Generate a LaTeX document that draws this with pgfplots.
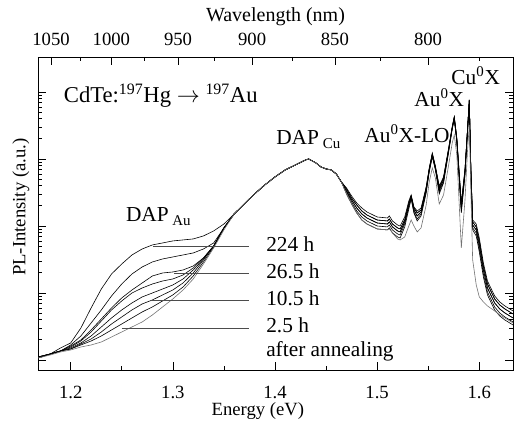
\documentclass[border=0pt]{standalone}
\usepackage{fontspec}
\setmainfont{Liberation Serif}
\usepackage{pgfplots}
\pgfplotsset{compat=1.18}
\begin{document}
\fontsize{14}{16.8}\selectfont
\begin{tikzpicture}[ann/.style={anchor=base west, inner sep=0pt, font=\fontsize{16}{19}\selectfont}]
\begin{axis}[
 name=main, scale only axis, width=356.25pt, height=234.75pt,
 xmin=1.168, xmax=1.633, ymode=log, ymin=0.709, ymax=33270,
 xtick={1.2,1.3,1.4,1.5,1.6}, minor xtick={1.25,1.35,1.45,1.55},
 ytick={1,10,100,1000,10000}, yticklabels={},
 xtick pos=bottom, ytick pos=both, tick align=inside,
 major tick length=6pt, minor tick length=3pt,
 xticklabel style={anchor=center, yshift=-17pt, /pgf/number format/.cd, fixed, fixed zerofill, precision=1, assume math mode=true},
 xlabel={Energy (eV)}, xlabel style={at={(axis description cs:0.463,0)}, anchor=center, yshift=-31pt},
 ylabel={PL-Intensity (a.u.)}, ylabel style={at={(axis description cs:-0.036,0.52)}, anchor=center},
 axis line style={line width=0.6pt}, tick style={line width=0.5pt, black},
 every axis plot/.append style={line width=0.45pt},
]
% C1 (224 h)
\addplot[black] coordinates {(1.168,1.109)(1.18,1.229)(1.19,1.511)(1.20,1.795)(1.21,3.006)(1.22,5.983)(1.23,11.48)(1.24,19.22)(1.25,27.12)(1.26,36.96)(1.27,45.43)(1.28,52.14)(1.29,55.85)(1.30,59.83)(1.31,61.92)(1.32,64.09)(1.33,71.06)(1.34,84.39)(1.35,107.1)
(1.36,151.1)(1.37,213.1)(1.38,300.6)(1.39,409.8)(1.40,539.6)(1.41,686.5)(1.42,815.4)(1.43,968.4)(1.433,1000)(1.44,873.5)(1.445,761.2)(1.45,710.6)(1.455,686.5)(1.46,598.3)(1.465,454.3)
(1.47,369.6)(1.475,280.7)(1.48,220.6)(1.485,185.7)(1.49,161.9)(1.50,136.3)(1.51,131.7)(1.512,141.1)(1.515,118.8)(1.52,103.5)(1.5225,100)(1.527,136.3)(1.531,236.3)(1.5333,290.5)(1.536,192.2)(1.5392,167.5)(1.543,185.7)(1.548,382.5)(1.551,735.4)(1.554,1229)(1.557,787.8)(1.5608,395.9)(1.565,539.6)(1.570,1460)(1.5735,3006)(1.5755,4241)(1.578,2059)(1.5824,220.6)(1.586,710.6)(1.5885,2807)(1.5902,7612)(1.5917,761.2)(1.5935,122.9)(1.597,107.1)(1.600,66.33)(1.604,28.07)(1.608,15.11)(1.615,9.040)(1.62,7.354)(1.625,6.409)(1.633,5.396)};
% C2
\addplot[black] coordinates {(1.168,1.109)(1.18,1.229)(1.19,1.363)(1.20,1.675)(1.21,2.283)(1.22,3.571)(1.23,5.585)(1.24,9.040)(1.25,13.63)(1.26,19.22)(1.27,24.46)(1.28,29.05)(1.29,32.21)(1.30,34.50)(1.31,36.96)(1.32,39.59)(1.33,45.43)(1.34,55.85)(1.35,93.57)
(1.36,151.1)(1.37,213.1)(1.38,300.6)(1.39,409.8)(1.40,539.6)(1.41,686.5)(1.42,815.4)(1.43,968.4)(1.433,1000)(1.44,873.5)(1.445,761.2)(1.45,710.6)(1.455,686.5)(1.46,598.3)(1.465,454.3)
(1.47,357.1)(1.475,262.0)(1.48,205.9)(1.485,167.5)(1.49,146.0)(1.50,122.9)(1.51,118.8)(1.512,127.2)(1.515,107.1)(1.52,93.57)(1.5225,90.40)(1.527,122.9)(1.531,220.6)(1.5333,280.7)(1.536,185.7)(1.5392,156.4)(1.543,173.4)(1.548,369.6)(1.551,710.6)(1.554,1188)(1.557,761.2)(1.5608,369.6)(1.565,521.4)(1.570,1411)(1.5735,3006)(1.5755,4241)(1.578,1990)(1.5824,205.9)(1.586,686.5)(1.5885,2807)(1.5902,7354)(1.5917,735.4)(1.5935,114.8)(1.597,96.84)(1.600,59.83)(1.604,25.31)(1.608,13.63)(1.615,8.154)(1.62,6.633)(1.625,5.780)(1.633,4.867)};
% C3 (26.5 h)
\addplot[black] coordinates {(1.168,1.109)(1.18,1.229)(1.19,1.363)(1.20,1.619)(1.21,1.990)(1.22,2.807)(1.23,4.098)(1.24,5.983)(1.25,8.439)(1.26,11.09)(1.27,14.11)(1.28,17.95)(1.29,19.90)(1.30,20.59)(1.31,22.06)(1.32,25.31)(1.33,33.33)(1.34,50.37)(1.35,93.57)
(1.36,151.1)(1.37,213.1)(1.38,300.6)(1.39,409.8)(1.40,539.6)(1.41,686.5)(1.42,815.4)(1.43,968.4)(1.433,1000)(1.44,873.5)(1.445,761.2)(1.45,710.6)(1.455,686.5)(1.46,598.3)(1.465,454.3)
(1.47,333.3)(1.475,244.6)(1.48,185.7)(1.485,151.1)(1.49,131.7)(1.50,110.9)(1.51,107.1)(1.512,114.8)(1.515,96.84)(1.52,84.39)(1.5225,81.54)(1.527,114.8)(1.531,205.9)(1.5333,271.2)(1.536,173.4)(1.5392,141.1)(1.543,161.9)(1.548,345.0)(1.551,686.5)(1.554,1148)(1.557,735.4)(1.5608,345.0)(1.565,486.7)(1.570,1363)(1.5735,2905)(1.5755,4098)(1.578,1922)(1.5824,185.7)(1.586,640.9)(1.5885,2712)(1.5902,7612)(1.5917,686.5)(1.5935,103.5)(1.597,87.35)(1.600,52.14)(1.604,22.06)(1.608,11.88)(1.615,7.106)(1.62,5.780)(1.625,5.037)(1.633,4.241)};
% C4
\addplot[black] coordinates {(1.168,1.109)(1.18,1.229)(1.19,1.363)(1.20,1.564)(1.21,1.922)(1.22,2.620)(1.23,3.825)(1.24,5.585)(1.25,7.612)(1.26,10.0)(1.27,11.88)(1.28,13.63)(1.29,15.11)(1.30,16.19)(1.31,18.57)(1.32,23.63)(1.33,33.33)(1.34,50.37)(1.35,93.57)
(1.36,151.1)(1.37,213.1)(1.38,300.6)(1.39,409.8)(1.40,539.6)(1.41,686.5)(1.42,815.4)(1.43,968.4)(1.433,1000)(1.44,873.5)(1.445,761.2)(1.45,710.6)(1.455,686.5)(1.46,598.3)(1.465,454.3)
(1.47,322.1)(1.475,228.3)(1.48,167.5)(1.485,136.3)(1.49,118.8)(1.50,100)(1.51,96.84)(1.512,103.5)(1.515,87.35)(1.52,76.12)(1.5225,73.54)(1.527,107.1)(1.531,192.2)(1.5333,262.0)(1.536,161.9)(1.5392,127.2)(1.543,151.1)(1.548,322.1)(1.551,663.3)(1.554,1109)(1.557,710.6)(1.5608,322.1)(1.565,454.3)(1.570,1317)(1.5735,2807)(1.5755,3959)(1.578,1857)(1.5824,167.5)(1.586,598.3)(1.5885,2620)(1.5902,6865)(1.5917,640.9)(1.5935,93.57)(1.597,78.78)(1.600,45.43)(1.604,19.22)(1.608,10.35)(1.615,6.192)(1.62,5.037)(1.625,4.390)(1.633,3.696)};
% C5
\addplot[black] coordinates {(1.168,1.071)(1.18,1.229)(1.19,1.363)(1.20,1.511)(1.21,1.795)(1.22,2.283)(1.23,3.112)(1.24,4.241)(1.25,5.585)(1.26,7.106)(1.27,8.735)(1.28,10.0)(1.29,11.48)(1.30,13.17)(1.31,16.19)(1.32,22.06)(1.33,32.21)(1.34,50.37)(1.35,93.57)
(1.36,151.1)(1.37,213.1)(1.38,300.6)(1.39,409.8)(1.40,539.6)(1.41,686.5)(1.42,815.4)(1.43,968.4)(1.433,1000)(1.44,873.5)(1.445,761.2)(1.45,710.6)(1.455,686.5)(1.46,598.3)(1.465,454.3)
(1.47,300.6)(1.475,213.1)(1.48,156.4)(1.485,122.9)(1.49,107.1)(1.50,90.40)(1.51,87.35)(1.512,93.57)(1.515,78.78)(1.52,68.65)(1.5225,66.33)(1.527,96.84)(1.531,179.5)(1.5333,253.1)(1.536,156.4)(1.5392,118.8)(1.543,141.1)(1.548,311.2)(1.551,640.9)(1.554,1071)(1.557,686.5)(1.5608,300.6)(1.565,439.0)(1.570,1272)(1.5735,2807)(1.5755,3959)(1.578,1795)(1.5824,156.4)(1.586,578.0)(1.5885,2620)(1.5902,6409)(1.5917,619.2)(1.5935,87.35)(1.597,71.06)(1.600,40.98)(1.604,17.34)(1.608,9.357)(1.615,5.585)(1.62,4.543)(1.625,3.959)(1.633,3.333)};
% C6 (10.5 h)
\addplot[black] coordinates {(1.168,1.071)(1.18,1.229)(1.19,1.363)(1.20,1.460)(1.21,1.734)(1.22,2.059)(1.23,2.620)(1.24,3.450)(1.25,4.390)(1.26,5.585)(1.27,6.865)(1.28,7.878)(1.29,9.357)(1.30,11.09)(1.31,14.11)(1.32,19.90)(1.33,31.12)(1.34,50.37)(1.35,93.57)
(1.36,151.1)(1.37,213.1)(1.38,300.6)(1.39,409.8)(1.40,539.6)(1.41,686.5)(1.42,815.4)(1.43,968.4)(1.433,1000)(1.44,873.5)(1.445,761.2)(1.45,710.6)(1.455,686.5)(1.46,598.3)(1.465,454.3)
(1.47,357.1)(1.475,262.0)(1.48,205.9)(1.485,167.5)(1.49,146.0)(1.50,122.9)(1.51,118.8)(1.512,127.2)(1.515,107.1)(1.52,93.57)(1.5225,90.40)(1.527,122.9)(1.531,220.6)(1.5333,280.7)(1.536,185.7)(1.5392,156.4)(1.543,173.4)(1.548,369.6)(1.551,710.6)(1.554,1188)(1.557,761.2)(1.5608,369.6)(1.565,521.4)(1.570,1411)(1.5735,3006)(1.5755,4241)(1.578,1990)(1.5824,205.9)(1.586,686.5)(1.5885,2807)(1.5902,7354)(1.5917,735.4)(1.5935,114.8)(1.597,96.84)(1.600,59.83)(1.604,25.31)(1.608,13.63)(1.615,8.154)(1.62,6.633)(1.625,5.780)(1.633,4.867)};
% C7
\addplot[black] coordinates {(1.168,1.071)(1.18,1.229)(1.19,1.363)(1.20,1.460)(1.21,1.675)(1.22,1.922)(1.23,2.283)(1.24,2.807)(1.25,3.450)(1.26,4.241)(1.27,5.214)(1.28,6.192)(1.29,7.612)(1.30,9.357)(1.31,12.29)(1.32,17.95)(1.33,29.05)(1.34,48.67)(1.35,93.57)
(1.36,151.1)(1.37,213.1)(1.38,300.6)(1.39,409.8)(1.40,539.6)(1.41,686.5)(1.42,815.4)(1.43,968.4)(1.433,1000)(1.44,873.5)(1.445,761.2)(1.45,710.6)(1.455,686.5)(1.46,598.3)(1.465,454.3)
(1.47,333.3)(1.475,244.6)(1.48,185.7)(1.485,151.1)(1.49,131.7)(1.50,110.9)(1.51,107.1)(1.512,114.8)(1.515,96.84)(1.52,84.39)(1.5225,81.54)(1.527,114.8)(1.531,205.9)(1.5333,271.2)(1.536,173.4)(1.5392,141.1)(1.543,161.9)(1.548,345.0)(1.551,686.5)(1.554,1148)(1.557,735.4)(1.5608,345.0)(1.565,486.7)(1.570,1363)(1.5735,2905)(1.5755,4098)(1.578,1922)(1.5824,185.7)(1.586,640.9)(1.5885,2712)(1.5902,7612)(1.5917,686.5)(1.5935,103.5)(1.597,87.35)(1.600,52.14)(1.604,22.06)(1.608,11.88)(1.615,7.106)(1.62,5.780)(1.625,5.037)(1.633,4.241)};
% C8 (grey)
\addplot[black!55] coordinates {(1.168,1.071)(1.18,1.188)(1.19,1.317)(1.20,1.411)(1.21,1.564)(1.22,1.675)(1.23,1.857)(1.24,2.206)(1.25,2.620)(1.26,3.112)(1.27,3.696)(1.28,4.702)(1.29,6.192)(1.30,8.154)(1.31,11.09)(1.32,16.19)(1.33,27.12)(1.34,47.02)(1.35,87.35)
(1.36,151.1)(1.37,213.1)(1.38,300.6)(1.39,409.8)(1.40,539.6)(1.41,686.5)(1.42,815.4)(1.43,968.4)(1.433,1000)(1.44,873.5)(1.445,761.2)(1.45,710.6)(1.455,686.5)(1.46,598.3)(1.465,454.3)
(1.47,300.6)(1.475,213.1)(1.48,156.4)(1.485,122.9)(1.49,107.1)(1.50,90.40)(1.51,87.35)(1.512,90.40)(1.515,78.78)(1.52,64.09)(1.5225,61.92)(1.527,68.65)(1.531,100)(1.5333,122.9)(1.536,100)(1.5392,81.54)(1.543,93.57)(1.548,205.9)(1.551,454.3)(1.554,735.4)(1.557,521.4)(1.5608,213.1)(1.565,290.5)(1.570,815.4)(1.5735,1734)(1.5755,2283)(1.578,1148)(1.5824,47.02)(1.586,244.6)(1.5885,1363)(1.5902,3221)(1.5917,345.0)(1.5935,31.12)(1.597,13.17)(1.600,8.735)(1.604,7.354)(1.608,6.409)(1.615,5.396)(1.62,4.702)(1.625,4.241)(1.633,3.571)};
% label leader lines
\addplot[black!70] coordinates {(1.2804,50.37)(1.3745,50.37)};
\addplot[black!70] coordinates {(1.301,19.90)(1.3745,19.90)};
\addplot[black!70] coordinates {(1.2784,7.878)(1.3745,7.878)};
\addplot[black!70] coordinates {(1.25,3.006)(1.3745,3.006)};
\node[ann] at (axis cs:1.3912,42.0) {224 h};
\node[ann] at (axis cs:1.3912,16.6) {26.5 h};
\node[ann] at (axis cs:1.3912,6.55) {10.5 h};
\node[ann] at (axis cs:1.3912,2.55) {2.5 h};
\node[ann] at (axis cs:1.3912,1.14) {after annealing};
\node[anchor=base west, inner sep=0pt, font=\fontsize{17}{20}\selectfont] at (axis cs:1.1931,6855) {CdTe:\textsuperscript{197}Hg $\rightarrow$ \textsuperscript{197}Au};
\node[ann] at (axis cs:1.2539,114.8) {DAP\,\textsubscript{Au}};
\node[ann] at (axis cs:1.401,1618) {DAP\hspace{3pt}\textsubscript{Cu}};
\node[ann] at (axis cs:1.4873,1733) {Au\textsuperscript{0}X-LO};
\node[ann] at (axis cs:1.5363,5976) {Au\textsuperscript{0}X};
\node[ann] at (axis cs:1.5725,12710) {Cu\textsuperscript{0}X};
\coordinate (bl) at (rel axis cs:0,0);
\coordinate (tr) at (rel axis cs:1,1);
\end{axis}
\begin{axis}[
 scale only axis, width=356.25pt, height=234.75pt,
 xmin=1.168, xmax=1.633, ymin=0, ymax=1,
 axis x line*=top, axis y line=none,
 xtick={1.18080,1.23984,1.30509,1.37760,1.45864,1.54980},
 xticklabels={1050,1000,950,900,850,800},
 minor xtick={1.20960,1.27163,1.34037,1.41696,1.50284,1.59979},
 tick align=inside, major tick length=6pt, minor tick length=3pt,
 tick style={line width=0.5pt, black}, axis line style={line width=0.6pt},
 xticklabel style={anchor=center, yshift=13pt},
 xlabel={Wavelength (nm)}, xlabel style={at={(axis description cs:0.5,1)}, anchor=center, yshift=30pt, font=\fontsize{15}{18}\selectfont},
]
\end{axis}
\pgfresetboundingbox
\path ([shift={(-28.5pt,-46.5pt)}]bl) rectangle ([shift={(5.25pt,42.75pt)}]tr);
\end{tikzpicture}
\end{document}
